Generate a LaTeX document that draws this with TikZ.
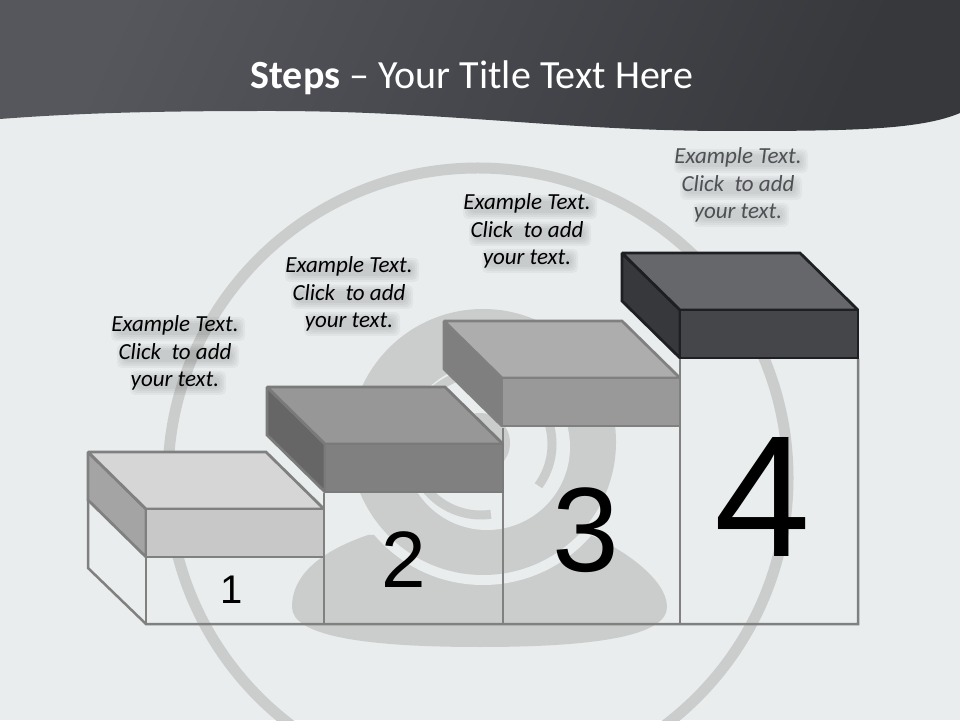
\documentclass[tikz,border=0pt]{standalone}
\usepackage{fontspec}
\setmainfont{Carlito}
\newfontfamily\numfont{Liberation Sans}

\definecolor{pagebg}{HTML}{E9EDEE}
\definecolor{snail}{HTML}{CBCDCC}
\definecolor{wall}{HTML}{808080}
\definecolor{headdark}{HTML}{37383C}
\definecolor{headlight}{HTML}{56575D}
\definecolor{topa}{HTML}{D6D6D6}
\definecolor{fronta}{HTML}{C8C8C8}
\definecolor{sidea}{HTML}{A4A4A4}
\definecolor{topb}{HTML}{979797}
\definecolor{frontb}{HTML}{808080}
\definecolor{sideb}{HTML}{666666}
\definecolor{edgeb}{HTML}{7A7A7A}
\definecolor{topc}{HTML}{ADADAD}
\definecolor{frontc}{HTML}{999999}
\definecolor{sidec}{HTML}{7F7F7F}
\definecolor{topd}{HTML}{66676B}
\definecolor{frontd}{HTML}{45464A}
\definecolor{sided}{HTML}{37383C}
\definecolor{edged}{HTML}{1E1F23}
\definecolor{greytext}{HTML}{4F5054}

\tikzset{
    steplabel/.style={align=center, font=\fontsize{23}{27.5}\selectfont\itshape},
    stepnum/.style={anchor=base, inner sep=0pt, font=\numfont},
    wallline/.style={draw=wall, line width=2.5pt, line join=miter},
    blockline/.style={line width=2.75pt, line join=miter, miter limit=2}
}

% one block: x, y of back corner, then top, front, side and edge colours
\newcommand{\stepblock}[6]{
    \draw[blockline, draw=#6, fill=#5] (#1,#2) -- ++(58,-57) -- ++(0,-48) -- ++(-58,57) -- cycle;
    \draw[blockline, draw=#6, fill=#3] (#1,#2) -- ++(178,0) -- ++(58,-57) -- ++(-178,0) -- cycle;
    \draw[blockline, draw=#6, fill=#4] (#1+58,#2-57) -- ++(178,0) -- ++(0,-48) -- ++(-178,0) -- cycle;
}

% text on a soft shadow: name, x, y, colour, shadow strength
\newcommand{\steptext}[5]{
    \foreach \off/\wd in {27/122,0/110,-27/84}
        \foreach \g in {0,2,4,6}
            \fill[black, opacity=#5, rounded corners=5pt]
                (#2-\wd/2-\g+3,#3+\off-9-\g) rectangle (#2+\wd/2+\g+3,#3+\off+3+\g);
    \node[steplabel, text=#4] (#1) at (#2,#3) {Example Text.\\Click\ \ to add\\your text.};
}

\begin{document}
\begin{tikzpicture}[x=1pt,y=1pt]

    \useasboundingbox (0,0) rectangle (960,720);
    \clip (0,0) rectangle (960,720);
    \fill[pagebg] (0,0) rectangle (960,720);

    % header
    \shade[left color=headlight, right color=headdark, shading angle=65]
        (0,720) -- (0,601) .. controls (90,608) and (180,609) .. (270,609)
        .. controls (450,609) and (560,589) .. (730,589)
        .. controls (850,589) and (920,590) .. (960,607) -- (960,720) -- cycle;
    \node[text=white, font=\fontsize{40}{40}\selectfont, anchor=base] (title) at (472,631) {\textbf{Steps} -- Your Title Text Here};

    % snail in the background
    \draw[snail, line width=11pt] (478,242) circle (310);
    \fill[snail] (292,113) .. controls (292,150) and (330,172) .. (368,185)
        -- (590,185) .. controls (625,170) and (667,140) .. (667,113)
        .. controls (667,85) and (600,73) .. (480,73)
        .. controls (360,73) and (292,85) .. (292,113) -- cycle;
    \fill[pagebg] (483,278) circle (143);
    \fill[snail] (483,278) circle (133);
    \fill[pagebg] (487,273) circle (83);
    \draw[snail, line width=9pt] (481,276) ++(-36:71) arc (-36:278:71);
    \fill[snail] (480,277) circle (30);

    \draw[wallline] (88,220) -- (88,152) -- (146,96) -- (858,96) -- (858,361);
    \draw[wallline] (146,96) -- (146,163);
    \draw[wallline] (324,96) -- (324,227);
    \draw[wallline] (503,96) -- (503,292);
    \draw[wallline] (680,96) -- (680,361);

    \stepblock{88}{268}{topa}{fronta}{sidea}{wall}
    \stepblock{267}{333}{topb}{frontb}{sideb}{edgeb}
    \stepblock{444}{399}{topc}{frontc}{sidec}{wall}
    \stepblock{622}{467}{topd}{frontd}{sided}{edged}

    \node[stepnum, font=\numfont\fontsize{40}{40}\selectfont] (numa) at (232,117) {1};
    \node[stepnum, font=\numfont\fontsize{80}{80}\selectfont] (numb) at (404,133) {2};
    \node[stepnum, font=\numfont\fontsize{120}{120}\selectfont] (numc) at (586,149) {3};
    \node[stepnum, font=\numfont\fontsize{173}{173}\selectfont] (numd) at (763,163) {4};

    \steptext{texta}{175}{367}{black}{.035}
    \steptext{textb}{349}{426}{black}{.035}
    \steptext{textc}{527}{489}{black}{.035}
    \steptext{textd}{738}{535}{greytext}{.03}

\end{tikzpicture}
\end{document}
